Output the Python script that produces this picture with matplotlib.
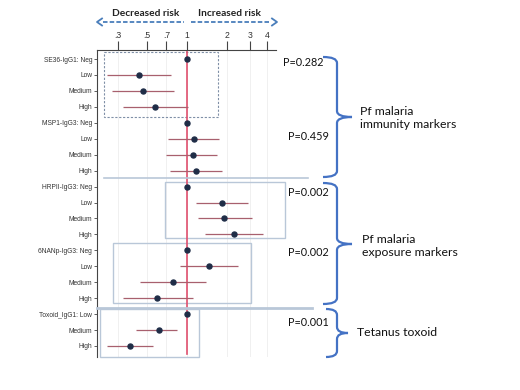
import numpy as np
import matplotlib
matplotlib.use("Agg")
import matplotlib.pyplot as plt
from matplotlib.patches import Rectangle, PathPatch
from matplotlib.path import Path
import matplotlib.transforms as mtransforms

# ---------------- data ----------------
labels = ["SE36-IgG1: Neg", "Low", "Medium", "High",
          "MSP1-IgG3: Neg", "Low", "Medium", "High",
          "HRPII-IgG3: Neg", "Low", "Medium", "High",
          "6NANp-IgG3: Neg", "Low", "Medium", "High",
          "Toxoid_IgG1: Low", "Medium", "High"]
est = [1.0, 0.435, 0.47, 0.575,
       1.0, 1.12, 1.10, 1.17,
       1.0, 1.82, 1.91, 2.24,
       1.0, 1.47, 0.785, 0.595,
       1.0, 0.61, 0.37]
lo = [np.nan, 0.25, 0.27, 0.33,
      np.nan, 0.72, 0.70, 0.745,
      np.nan, 1.17, 1.20, 1.37,
      np.nan, 0.89, 0.445, 0.33,
      np.nan, 0.415, 0.25]
hi = [np.nan, 0.76, 0.80, 1.01,
      np.nan, 1.74, 1.68, 1.83,
      np.nan, 2.86, 3.07, 3.75,
      np.nan, 2.43, 1.38, 1.10,
      np.nan, 0.84, 0.55]
xticks = [0.3, 0.5, 0.7, 1, 2, 3, 4]
xticklabels = [".3", ".5", ".7", "1", "2", "3", "4"]
pvals = ["P=0.282", "P=0.459", "P=0.002", "P=0.002", "P=0.001"]
groups = ["Pf malaria\nimmunity markers", "Pf malaria\nexposure markers", "Tetanus toxoid"]

# ---------------- figure ----------------
W, H = 520, 390
fig = plt.figure(figsize=(W / 100, H / 100), dpi=100)
fig.patch.set_facecolor("white")
ax = fig.add_axes([97 / W, 1 - 357 / H, 179 / W, 307 / H])

# pixel transform (figure pixels, origin top-left)
px = mtransforms.Affine2D().scale(1 / W, -1 / H).translate(0, 1) + fig.transFigure

n = len(labels)
ypos = np.arange(n)
ax.set_xscale("log")
ax.set_xlim(0.21, 4.67)
ax.set_ylim(18.69, -0.565)

ax.vlines(xticks, -0.565, 18.69, color="#eeeeee", lw=0.6, zorder=0)
ax.axvline(1, ymin=0.01, ymax=1, color="#e0506e", lw=1.2, zorder=2)
ax.hlines(ypos, lo, hi, color="#a8606e", lw=0.9, zorder=3)
ax.plot(est, ypos, "o", color="#1f2d47", ms=3.6, zorder=4)

ax.xaxis.tick_top()
ax.set_xticks(xticks)
ax.set_xticklabels(xticklabels, family="Liberation Sans", fontsize=6.2, color="#333333")
ax.xaxis.set_minor_locator(matplotlib.ticker.NullLocator())
ax.tick_params(axis="x", which="major", direction="out", length=6.5, width=0.8,
               color="#444444", pad=1.0)
ax.set_yticks(ypos)
ax.set_yticklabels(labels, family="Liberation Sans", fontsize=4.8, color="#333333")
ax.tick_params(axis="y", direction="out", length=2.5, width=0.6, color="#444444", pad=1)
for s in ["right", "bottom"]:
    ax.spines[s].set_visible(False)
for s in ["top", "left"]:
    ax.spines[s].set_color("#444444")
    ax.spines[s].set_linewidth(0.8)

# group boxes (data coords)
box_kw = dict(fill=False, clip_on=False, zorder=1)
ax.add_patch(Rectangle((0.238, -0.44), 1.71 - 0.238, 3.64 + 0.44, ec="#7f8fa6",
                       ls=(0, (2, 1.5)), lw=0.8, **box_kw))
ax.add_patch(Rectangle((0.684, 7.72), 5.45 - 0.684, 11.23 - 7.72, ec="#b9c7d8", lw=1.0, **box_kw))
ax.add_patch(Rectangle((0.278, 11.54), 3.03 - 0.278, 15.31 - 11.54, ec="#b9c7d8", lw=1.0, **box_kw))
ax.add_patch(Rectangle((0.222, 15.68), 1.23 - 0.222, 18.69 - 15.68, ec="#b9c7d8", lw=1.0, **box_kw))

# separator lines (figure pixels)
fig.add_artist(plt.Line2D([104, 308], [178, 178], transform=px, color="#b9c7d8", lw=1.2))
fig.add_artist(plt.Line2D([97, 312], [308, 308], transform=px, color="#b9c7d8", lw=2.0))

# top arrows and labels
acol = "#4a7ebb"
fig.add_artist(plt.Line2D([103, 184], [22, 22], transform=px, color=acol, lw=1.3, ls=(0, (2.5, 1.2))))
fig.add_artist(plt.Line2D([191, 271], [22, 22], transform=px, color=acol, lw=1.3, ls=(0, (2.5, 1.2))))
fig.add_artist(plt.Line2D([102, 97, 102], [18.5, 22, 25.5], transform=px, color=acol, lw=1.3))
fig.add_artist(plt.Line2D([272, 277, 272], [18.5, 22, 25.5], transform=px, color=acol, lw=1.3))
fig.text(145.5, 13, "Decreased risk", transform=px, ha="center", va="center",
         family="Lato", weight="bold", fontsize=7.3, color="#222222")
fig.text(230, 13, "Increased risk", transform=px, ha="center", va="center",
         family="Lato", weight="bold", fontsize=7.3, color="#222222")

# p values
p_xy = [(324, 63), (329, 137), (329, 193), (329, 253), (329, 323)]
for (x, y), t in zip(p_xy, pvals):
    fig.text(x, y, t, transform=px, ha="right", va="center", family="Lato",
             fontsize=7.8, color="#111111")

# braces
bcol = "#4472c4"
def brace(x, y0, y1, ym, w=14, t=15, r=6):
    verts = [(x - w, y0), (x, y0), (x, y0 + r),
             (x, ym - r), (x, ym), (x + t, ym),
             (x, ym), (x, ym + r),
             (x, y1 - r), (x, y1), (x - w, y1)]
    codes = [Path.MOVETO, Path.CURVE3, Path.CURVE3,
             Path.LINETO, Path.CURVE3, Path.CURVE3,
             Path.CURVE3, Path.CURVE3,
             Path.LINETO, Path.CURVE3, Path.CURVE3]
    fig.add_artist(PathPatch(Path(verts, codes), transform=px, fill=False,
                             ec=bcol, lw=1.6))

brace(337, 57, 177, 117)
brace(337, 183, 304, 244)
brace(337, 309, 357, 333, w=11, t=11)

g_xy = [(360, 118), (362, 246), (357, 333)]
for (x, y), t in zip(g_xy, groups):
    fig.text(x, y, t, transform=px, ha="left", va="center", family="Lato",
             fontsize=8.8, color="#111111", linespacing=1.15)

fig.savefig("out.png", dpi=100, facecolor="white")
